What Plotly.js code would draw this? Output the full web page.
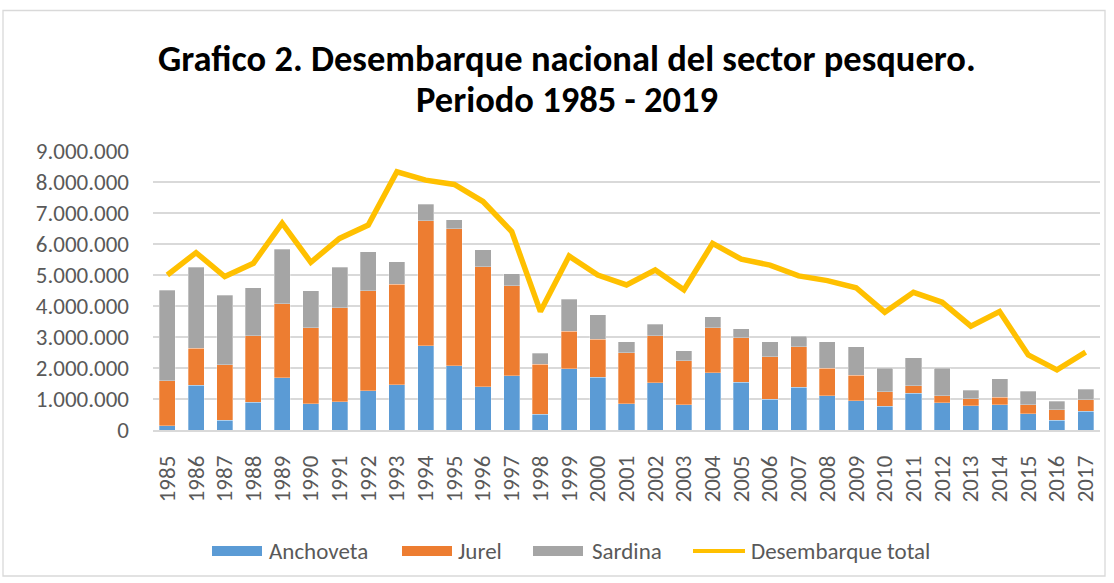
<!DOCTYPE html>
<html>
<head>
<meta charset="utf-8">
<script src="https://cdn.plot.ly/plotly-3.0.1.min.js"></script>
<style>
html,body{margin:0;padding:0;background:#fff;}
#chart{width:1114px;height:583px;}
</style>
</head>
<body>
<div id="chart"></div>
<script>
const years = ['1985','1986','1987','1988','1989','1990','1991','1992','1993','1994','1995','1996','1997','1998','1999','2000','2001','2002','2003','2004','2005','2006','2007','2008','2009','2010','2011','2012','2013','2014','2015','2016','2017'];
const anchoveta = [140000,1450000,320000,890000,1690000,840000,910000,1270000,1460000,2710000,2080000,1390000,1750000,510000,1970000,1700000,850000,1520000,810000,1850000,1540000,990000,1380000,1110000,950000,760000,1180000,880000,780000,810000,530000,320000,610000];
const jurel = [1450000,1180000,1780000,2150000,2390000,2460000,3040000,3220000,3240000,4040000,4410000,3880000,2910000,1610000,1220000,1220000,1640000,1520000,1430000,1450000,1440000,1380000,1310000,890000,820000,470000,240000,230000,230000,250000,280000,340000,360000];
const sardina = [2920000,2620000,2240000,1550000,1750000,1190000,1300000,1260000,720000,540000,290000,540000,380000,350000,1030000,790000,360000,370000,310000,360000,280000,480000,330000,840000,920000,760000,910000,880000,280000,590000,440000,260000,340000];
const total = [5000000,5720000,4950000,5380000,6670000,5410000,6180000,6610000,8330000,8060000,7920000,7370000,6400000,3820000,5610000,5000000,4680000,5160000,4520000,6020000,5510000,5320000,4970000,4820000,4590000,3800000,4440000,4120000,3350000,3820000,2420000,1940000,2510000];
const seriesNames = ['Anchoveta','Jurel','Sardina','Desembarque total'];
const seriesColors = ['#5B9BD5','#ED7D31','#A5A5A5','#FFC000'];
const titleLines = ['Grafico 2. Desembarque nacional del sector pesquero.','Periodo 1985 - 2019'];

const FONT = "Carlito, Calibri, 'Open Sans', sans-serif";
const TXT = '#595959';

// plot area in pixels
const L = 153, R = 1100, T = 151, B = 430;
const px = p => (p - L) / (R - L);
const py = p => (B - p) / (B - T);

const traces = [
  {type:'bar', name:seriesNames[0], x:years, y:anchoveta, marker:{color:seriesColors[0], line:{color:'rgba(255,255,255,0.6)', width:0.5}}},
  {type:'bar', name:seriesNames[1], x:years, y:jurel, marker:{color:seriesColors[1], line:{color:'rgba(255,255,255,0.6)', width:0.5}}},
  {type:'bar', name:seriesNames[2], x:years, y:sardina, marker:{color:seriesColors[2], line:{color:'rgba(255,255,255,0.6)', width:0.5}}},
  {type:'scatter', mode:'lines', name:seriesNames[3], x:years, y:total, line:{color:seriesColors[3], width:5.5}}
];

// custom legend (wide swatches like the original)
const legendItems = [
  {sw0:212, sw1:262, tx:267},
  {sw0:402, sw1:452, tx:456},
  {sw0:533, sw1:583, tx:590},
  {sw0:693, sw1:745, tx:749}
];
const LEGY = 551;
const shapes = [{type:'rect', xref:'paper', yref:'paper', x0:px(3), x1:px(1105), y0:py(576), y1:py(10.5),
                 line:{color:'#d9d9d9', width:1.3}, fillcolor:'rgba(0,0,0,0)', layer:'below'}];
const annotations = [];
legendItems.forEach((it, i) => {
  if (i < 3) {
    shapes.push({type:'rect', xref:'paper', yref:'paper', x0:px(it.sw0), x1:px(it.sw1), y0:py(LEGY+5), y1:py(LEGY-5),
                 line:{width:0}, fillcolor:seriesColors[i]});
  } else {
    shapes.push({type:'line', xref:'paper', yref:'paper', x0:px(it.sw0), x1:px(it.sw1), y0:py(LEGY), y1:py(LEGY),
                 line:{width:4, color:seriesColors[i]}});
  }
  annotations.push({xref:'paper', yref:'paper', x:px(it.tx), y:py(LEGY), xanchor:'left', yanchor:'middle',
                    text:seriesNames[i], showarrow:false, font:{family:FONT, size:23, color:TXT}});
});
annotations.push({xref:'paper', yref:'paper', x:px(567), y:py(58), xanchor:'center', yanchor:'middle',
                  text:'<b>'+titleLines[0]+'</b>', showarrow:false, font:{family:FONT, size:36.5, color:'#000'}});
annotations.push({xref:'paper', yref:'paper', x:px(567), y:py(100), xanchor:'center', yanchor:'middle',
                  text:'<b>'+titleLines[1]+'</b>', showarrow:false, font:{family:FONT, size:36.5, color:'#000'}});

const layout = {
  width:1114, height:583,
  margin:{l:L, r:1114-R, t:T, b:583-B},
  paper_bgcolor:'#ffffff', plot_bgcolor:'#ffffff',
  barmode:'stack', bargap:0.44,
  separators:',.',
  font:{family:FONT, color:TXT},
  xaxis:{type:'category', tickangle:-90, tickfont:{size:23, color:TXT}, showgrid:false,
         showline:true, linecolor:'#d9d9d9', linewidth:1.5, ticks:'', zeroline:false, ticklabelstandoff:15},
  yaxis:{range:[0,9000000], dtick:1000000, tickformat:',d', tickfont:{size:23, color:TXT},
         showgrid:true, gridcolor:'#d9d9d9', gridwidth:1.3, zeroline:false, showline:false, ticks:'', ticklabelstandoff:23},
  showlegend:false,
  shapes:shapes,
  annotations:annotations
};
Plotly.newPlot('chart', traces, layout, {displayModeBar:false, staticPlot:true});
</script>
</body>
</html>
